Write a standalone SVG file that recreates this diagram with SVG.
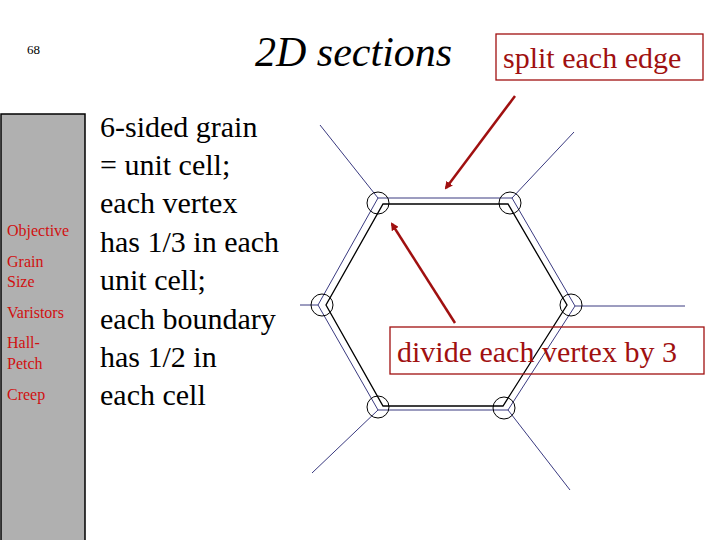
<svg xmlns="http://www.w3.org/2000/svg" width="720" height="540" viewBox="0 0 720 540">
<style>
.s,.side,.rt{font-family:'Liberation Serif','Times New Roman',Times,'DejaVu Serif',serif}
.side{font-size:16px;fill:#d01010}
.b{fill:none;stroke:#3a3a80;stroke-width:1}
.k{fill:none;stroke:#000;stroke-width:1.3}
.c{fill:none;stroke:#000;stroke-width:1}
.a{stroke:#a01010;stroke-width:2.5;fill:none;marker-end:url(#ah)}
.box{fill:none;stroke:#a01010;stroke-width:1.3}
.rt{font-size:30px;fill:#a01010}
</style>
<defs><marker id="ah" markerWidth="8" markerHeight="8" refX="6" refY="4" orient="auto" markerUnits="userSpaceOnUse"><path d="M0,0 L8,4 L0,8 Z" fill="#a01010"/></marker></defs>
<rect width="720" height="540" fill="#fff"/>
<g id="sidebar">
<rect x="1" y="114" width="84" height="430" fill="#b0b0b0" stroke="#000" stroke-width="1.5"/>
<text class="side" x="7" y="236">Objective</text>
<text class="side" x="7" y="267">Grain</text>
<text class="side" x="7" y="287">Size</text>
<text class="side" x="7" y="318">Varistors</text>
<text class="side" x="7" y="348">Hall-</text>
<text class="side" x="7" y="369">Petch</text>
<text class="side" x="7" y="400">Creep</text>
</g>
<text class="s" x="27" y="54" font-size="13" font-family="'Liberation Serif',serif">68</text>
<text class="s" x="255" y="66" font-size="42" font-style="italic" font-family="'Liberation Serif',serif">2D sections</text>
<text class="s" x="100" y="137" font-size="30" font-family="'Liberation Serif',serif">
<tspan x="100" y="137">6-sided grain</tspan>
<tspan x="100" y="175">= unit cell;</tspan>
<tspan x="100" y="213">each vertex</tspan>
<tspan x="100" y="252">has 1/3 in each</tspan>
<tspan x="100" y="290">unit cell;</tspan>
<tspan x="100" y="329">each boundary</tspan>
<tspan x="100" y="367">has 1/2 in</tspan>
<tspan x="100" y="405">each cell</tspan>
</text>
<g id="grain">
<polygon class="b" points="378,198 512,198 575,306 508,410 378,410 318,305"/>
<polygon class="k" points="383,204 508,204 567,305 503,406 383,406 326,305"/>
<line class="b" x1="378" y1="198" x2="320" y2="125"/>
<line class="b" x1="512" y1="198" x2="574" y2="132"/>
<line class="b" x1="318" y1="305" x2="300" y2="305"/>
<line class="b" x1="575" y1="306" x2="685" y2="306"/>
<line class="b" x1="378" y1="410" x2="312" y2="473"/>
<line class="b" x1="508" y1="410" x2="570" y2="490"/>
<circle class="c" cx="378" cy="203" r="11"/>
<circle class="c" cx="510" cy="203" r="11"/>
<circle class="c" cx="322" cy="305" r="11"/>
<circle class="c" cx="571" cy="305" r="11"/>
<circle class="c" cx="378" cy="407" r="11"/>
<circle class="c" cx="504" cy="408" r="11"/>
</g>
<g id="connectors">
<line class="a" x1="515" y1="96" x2="446" y2="188"/>
<line class="a" x1="455" y1="323" x2="392" y2="224"/>
</g>
<g id="label-split">
<rect class="box" x="496" y="34" width="207" height="46" style="fill:#fff"/>
<text class="rt" x="503" y="68">split each edge</text>
</g>
<g id="label-divide">
<rect class="box" x="390" y="327" width="314" height="47"/>
<text class="rt" x="397" y="362">divide each vertex by 3</text>
</g>
</svg>
